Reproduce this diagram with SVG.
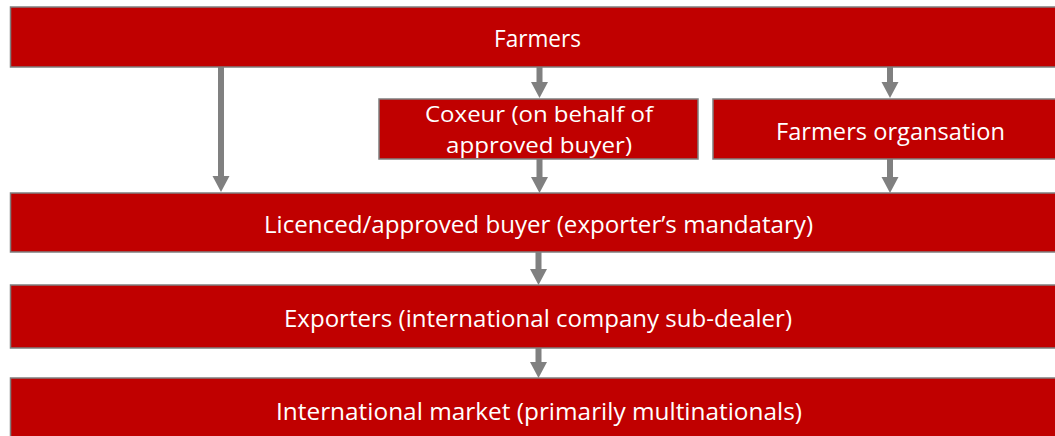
<svg xmlns="http://www.w3.org/2000/svg" width="1055" height="436" viewBox="0 0 1055 436">
<style>
.box{fill:#c00000;stroke:#7f7f7f;stroke-width:1.5}
.t{fill:#ffffff;font-family:"Open Sans","Liberation Sans",sans-serif;font-size:24px}
.t2{font-size:22.5px}
.arr{fill:#808080}
</style>
<rect width="1055" height="436" fill="#ffffff"/>
<g id="connectors">
<polygon class="arr" points="218,67 224,67 224,176 229.5,176 221,192 212.5,176 218,176"/>
<polygon class="arr" points="536.5,67 542.5,67 542.5,82 548,82 539.5,98 531,82 536.5,82"/>
<polygon class="arr" points="887,67 893,67 893,82 898.5,82 890,98 881.5,82 887,82"/>
<polygon class="arr" points="536.5,159 542.5,159 542.5,177 548,177 539.5,193 531,177 536.5,177"/>
<polygon class="arr" points="887,159 893,159 893,177 898.5,177 890,193 881.5,177 887,177"/>
<polygon class="arr" points="535.5,252 541.5,252 541.5,269 547,269 538.5,285 530,269 535.5,269"/>
<polygon class="arr" points="535.5,348 541.5,348 541.5,362 547,362 538.5,378 530,362 535.5,362"/>
</g>
<g id="farmers">
<rect class="box" x="10.5" y="7" width="1058" height="60"/>
<text class="t" x="494" y="47" textLength="87" lengthAdjust="spacingAndGlyphs">Farmers</text>
</g>
<g id="coxeur">
<rect class="box" x="379" y="99" width="319" height="60"/>
<text class="t t2" x="425" y="121.5" textLength="228" lengthAdjust="spacingAndGlyphs">Coxeur (on behalf of</text>
<text class="t t2" x="446" y="152.5" textLength="186" lengthAdjust="spacingAndGlyphs">approved buyer)</text>
</g>
<g id="farmers-org">
<rect class="box" x="713" y="99" width="355" height="60"/>
<text class="t" x="776" y="140" textLength="229" lengthAdjust="spacingAndGlyphs">Farmers organsation</text>
</g>
<g id="licenced">
<rect class="box" x="10.5" y="193" width="1058" height="59"/>
<text class="t" x="264" y="233" textLength="549" lengthAdjust="spacingAndGlyphs">Licenced/approved buyer (exporter’s mandatary)</text>
</g>
<g id="exporters">
<rect class="box" x="10.5" y="285" width="1058" height="63"/>
<text class="t" x="284" y="327" textLength="508" lengthAdjust="spacingAndGlyphs">Exporters (international company sub-dealer)</text>
</g>
<g id="international">
<rect class="box" x="10.5" y="378" width="1058" height="65"/>
<text class="t" x="276" y="420" textLength="526" lengthAdjust="spacingAndGlyphs">International market (primarily multinationals)</text>
</g>
</svg>
